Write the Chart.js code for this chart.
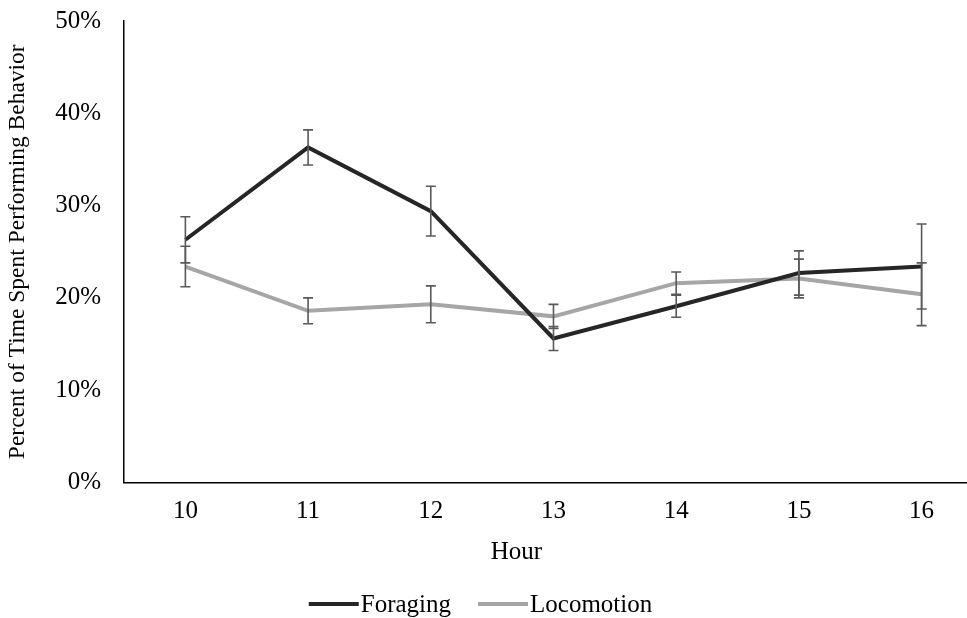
<!DOCTYPE html>
<html>
<head>
<meta charset="utf-8">
<script src="https://cdn.jsdelivr.net/npm/chart.js@4.4.1/dist/chart.umd.min.js"></script>
<style>
  html, body { margin: 0; padding: 0; background: #fff; overflow: hidden; }
  #wrap { width: 967px; height: 618px; position: relative; }
</style>
</head>
<body>
<div id="wrap"><canvas id="behaviorChart"></canvas></div>
<script>
const hours = [10, 11, 12, 13, 14, 15, 16];
const foraging = [26.3, 36.3, 29.4, 15.6, 19.1, 22.7, 23.4];
const foragingErr = [2.5, 1.9, 2.7, 1.3, 1.2, 2.4, 4.6];
const locomotion = [23.4, 18.6, 19.3, 18.0, 21.6, 22.1, 20.4];
const locomotionErr = [2.2, 1.4, 2.0, 1.3, 1.2, 2.1, 3.4];
const yTicks = [0, 10, 20, 30, 40, 50];
const seriesNames = ['Foraging', 'Locomotion'];
const seriesColors = ['#262626', '#a6a6a6'];

const serif = '"Liberation Serif", "Times New Roman", serif';

// draws the +/- error whiskers on top of the lines
const errorBars = {
    id: 'errorBars',
    afterDatasetsDraw(chart) {
        const ctx = chart.ctx;
        const xs = chart.scales.x, ys = chart.scales.y;
        const errs = [foragingErr, locomotionErr];
        ctx.save();
        ctx.strokeStyle = '#595959';
        ctx.lineWidth = 1.6;
        chart.data.datasets.forEach(function (ds, d) {
            ds.data.forEach(function (p, i) {
                const x = xs.getPixelForValue(p.x);
                const top = ys.getPixelForValue(p.y + errs[d][i]);
                const bot = ys.getPixelForValue(p.y - errs[d][i]);
                ctx.beginPath();
                ctx.moveTo(x, top); ctx.lineTo(x, bot);
                ctx.moveTo(x - 5, top); ctx.lineTo(x + 5, top);
                ctx.moveTo(x - 5, bot); ctx.lineTo(x + 5, bot);
                ctx.stroke();
            });
        });
        ctx.restore();
    }
};

// x-axis title and an Excel-like legend (short gap between line and text)
const bottomText = {
    id: 'bottomText',
    afterDraw(chart) {
        const ctx = chart.ctx;
        ctx.save();
        ctx.fillStyle = '#000';
        ctx.font = '25px ' + serif;
        ctx.textBaseline = 'middle';
        ctx.textAlign = 'center';
        ctx.fillText('Hour', chart.width / 2 + 33, 552);

        const lineW = 50, gapText = 2, gapItems = 27, ly = 604;
        const widths = seriesNames.map(n => ctx.measureText(n).width);
        const total = widths.reduce((a, w) => a + lineW + gapText + w, 0) + gapItems;
        let x = chart.width / 2 - 3 - total / 2;
        ctx.textAlign = 'left';
        seriesNames.forEach(function (name, i) {
            ctx.strokeStyle = seriesColors[i];
            ctx.lineWidth = 4;
            ctx.beginPath();
            ctx.moveTo(x, ly); ctx.lineTo(x + lineW, ly);
            ctx.stroke();
            x += lineW + gapText;
            ctx.fillText(name, x, ly + 1);
            x += widths[i] + gapItems;
        });
        ctx.restore();
    }
};

const ctx = document.getElementById('behaviorChart').getContext('2d');

new Chart(ctx, {
    type: 'line',
    data: {
        datasets: seriesNames.map((name, d) => ({
            label: name,
            data: hours.map((h, i) => ({ x: h, y: (d === 0 ? foraging : locomotion)[i] })),
            borderColor: seriesColors[d],
            backgroundColor: seriesColors[d],
            borderWidth: 4,
            pointRadius: 0,
            tension: 0
        }))
    },
    options: {
        responsive: true,
        maintainAspectRatio: false,
        animation: false,
        layout: { padding: { top: 0, right: 0, left: 4, bottom: 77.5 } },
        plugins: {
            tooltip: { enabled: false },
            legend: { display: false }
        },
        scales: {
            x: {
                type: 'linear',
                min: 9.5,
                max: 16.37,
                afterBuildTicks: function (scale) {
                    scale.ticks = hours.map(h => ({ value: h }));
                },
                grid: { display: false, drawTicks: false },
                border: { display: true, color: '#000', width: 1.5 },
                ticks: {
                    color: '#000',
                    padding: 14,
                    font: { family: serif, size: 25 },
                    callback: v => String(v)
                }
            },
            y: {
                min: 0,
                max: 50,
                afterBuildTicks: function (scale) {
                    scale.ticks = yTicks.map(v => ({ value: v }));
                },
                afterFit: function (scale) {
                    scale.width += 15;
                },
                grid: {
                    display: false,
                    drawTicks: true,
                    tickLength: 17,
                    tickColor: 'rgba(0,0,0,0)'
                },
                border: { display: true, color: '#000', width: 1.5 },
                ticks: {
                    color: '#000',
                    padding: 6,
                    font: { family: serif, size: 25 },
                    callback: v => v + '%'
                },
                title: {
                    display: true,
                    text: 'Percent of Time Spent Performing Behavior',
                    color: '#000',
                    padding: { top: 0, bottom: 2 },
                    font: { family: serif, size: 23.5 }
                }
            }
        }
    },
    plugins: [errorBars, bottomText]
});
</script>
</body>
</html>
